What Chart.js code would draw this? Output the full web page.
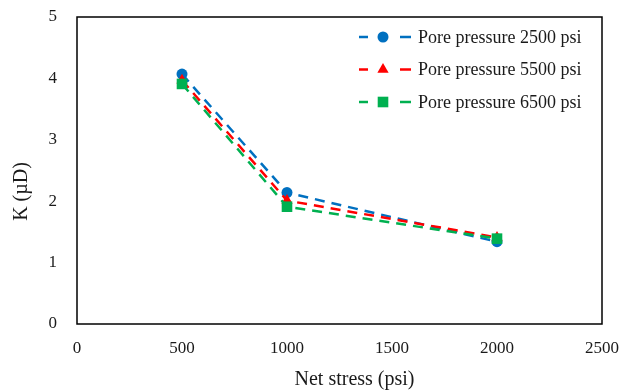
<!DOCTYPE html>
<html>
<head>
<meta charset="utf-8">
<script src="https://cdn.jsdelivr.net/npm/chart.js"></script>
<style>
    body { margin: 0; background: #fff; }
    #wrap { width: 619px; height: 391px; position: relative; }
</style>
</head>
<body>
<div id="wrap"><canvas id="kChart"></canvas></div>
<script>
// DATA

const netStress = [500, 1000, 2000];
const seriesLabels = ['Pore pressure 2500 psi', 'Pore pressure 5500 psi', 'Pore pressure 6500 psi'];
const k2500 = [4.07, 2.14, 1.34];
const k5500 = [3.97, 2.01, 1.41];
const k6500 = [3.91, 1.91, 1.39];
const xTicks = [0, 500, 1000, 1500, 2000, 2500];
const yTicks = [0, 1, 2, 3, 4, 5];

const FONT = "'Liberation Serif', 'Times New Roman', serif";
const TEXT = '#1a1a1a';

// HELPERS

function drawMarker(ctx, style, r, x, y, color) {
    ctx.save();
    ctx.fillStyle = color;
    ctx.beginPath();
    if (style === 'circle') {
        ctx.arc(x, y, r, 0, Math.PI * 2);
    } else if (style === 'triangle') {
        ctx.moveTo(x, y - r);
        ctx.lineTo(x + r * 0.866, y + r * 0.5);
        ctx.lineTo(x - r * 0.866, y + r * 0.5);
        ctx.closePath();
    } else {
        const h = r * Math.SQRT1_2;
        ctx.rect(x - h, y - h, h * 2, h * 2);
    }
    ctx.fill();
    ctx.restore();
}

// no extra room for the outer tick labels, the layout padding decides
function fixPadding(scale) {
    scale.paddingTop = 0;
    scale.paddingBottom = 0;
    scale.paddingLeft = 0;
    scale.paddingRight = 0;
}

// frame, legend and axis titles
const decorPlugin = {
    id: 'decor',
    beforeDatasetsDraw(chart) {
        const { ctx, chartArea: a } = chart;
        ctx.save();
        ctx.strokeStyle = '#000';
        ctx.lineWidth = 1.5;
        ctx.strokeRect(a.left, a.top, a.right - a.left, a.bottom - a.top);
        ctx.restore();
    },
    afterDraw(chart) {
        const { ctx, chartArea: a } = chart;
        ctx.save();

        // legend
        const lx = a.right - 243;
        chart.data.datasets.forEach((ds, i) => {
            const y = a.top + 20 + i * 32.5;
            ctx.strokeStyle = ds.borderColor;
            ctx.lineWidth = 2.5;
            ctx.beginPath();
            ctx.moveTo(lx, y);
            ctx.lineTo(lx + 9, y);
            ctx.moveTo(lx + 41, y);
            ctx.lineTo(lx + 52, y);
            ctx.stroke();
            drawMarker(ctx, ds.pointStyle, ds.pointRadius, lx + 24, y, ds.borderColor);
            ctx.fillStyle = TEXT;
            ctx.font = `18px ${FONT}`;
            ctx.textBaseline = 'middle';
            ctx.textAlign = 'left';
            ctx.fillText(ds.label, lx + 59, y + 1);
        });

        // axis titles
        ctx.fillStyle = TEXT;
        ctx.font = `20px ${FONT}`;
        ctx.textAlign = 'center';
        ctx.textBaseline = 'middle';
        ctx.fillText('Net stress (psi)', (a.left + a.right) / 2 + 15, 380);
        ctx.translate(22, (a.top + a.bottom) / 2 + 21);
        ctx.rotate(-Math.PI / 2);
        ctx.fillText('K (\u00b5D)', 0, 0);
        ctx.restore();
    }
};

// CHART

function makeDataset(label, values, color, style, radius, order) {
    return {
        label: label,
        data: netStress.map((x, i) => ({ x: x, y: values[i] })),
        borderColor: color,
        backgroundColor: color,
        borderWidth: 2.5,
        borderDash: [10, 7],
        pointStyle: style,
        pointRadius: radius,
        pointHoverRadius: radius,
        pointBorderWidth: 0,
        pointBackgroundColor: color,
        tension: 0,
        fill: false,
        order: order
    };
}

function createChart() {
    const ctx = document.getElementById('kChart');

    new Chart(ctx, {
        type: 'line',
        data: {
            datasets: [
                makeDataset(seriesLabels[0], k2500, '#0070C0', 'circle', 5.5, 3),
                makeDataset(seriesLabels[1], k5500, '#FF0000', 'triangle', 6.5, 2),
                makeDataset(seriesLabels[2], k6500, '#00B050', 'rect', 7.5, 1)
            ]
        },
        options: {
            responsive: true,
            maintainAspectRatio: false,
            animation: false,
            layout: {
                padding: { top: 17, right: 17, left: 0, bottom: 0 }
            },
            plugins: {
                legend: { display: false },
                tooltip: { enabled: false }
            },
            scales: {
                x: {
                    type: 'linear',
                    min: xTicks[0],
                    max: xTicks[xTicks.length - 1],
                    afterBuildTicks: scale => { scale.ticks = xTicks.map(v => ({ value: v })); },
                    afterFit: scale => { scale.height = 67; fixPadding(scale); },
                    grid: { display: false },
                    border: { display: false },
                    ticks: {
                        color: TEXT,
                        padding: 6,
                        maxRotation: 0,
                        font: { family: FONT, size: 17 },
                        callback: v => String(v)
                    }
                },
                y: {
                    min: yTicks[0],
                    max: yTicks[yTicks.length - 1],
                    afterBuildTicks: scale => { scale.ticks = yTicks.map(v => ({ value: v })); },
                    afterFit: scale => { scale.width = 77; fixPadding(scale); },
                    grid: { display: false },
                    border: { display: false },
                    ticks: {
                        color: TEXT,
                        padding: 12,
                        font: { family: FONT, size: 17 },
                        callback: v => String(v)
                    }
                }
            }
        },
        plugins: [decorPlugin]
    });
}

document.addEventListener('DOMContentLoaded', createChart);
</script>
</body>
</html>
